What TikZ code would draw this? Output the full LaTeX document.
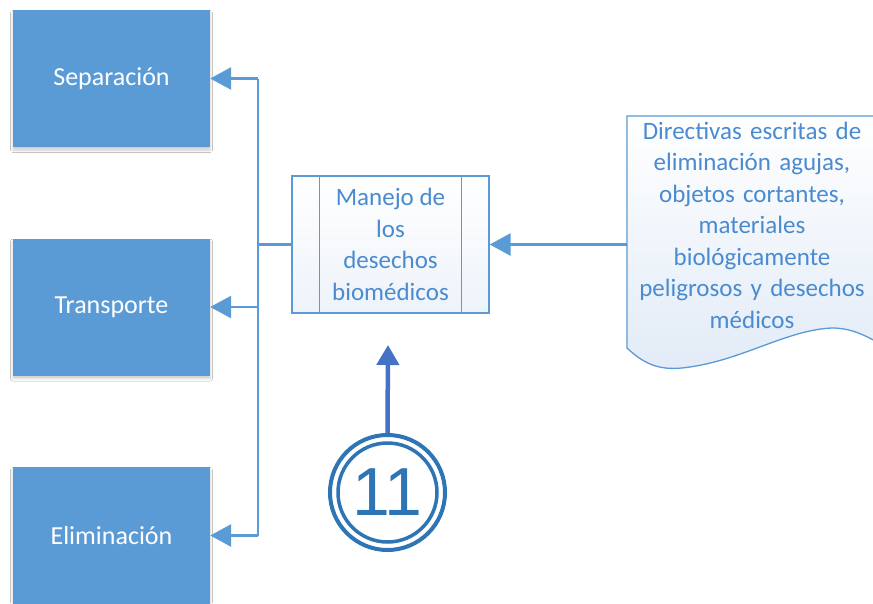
\documentclass[tikz,border=0pt]{standalone}
\usepackage{fontspec}
\setmainfont{Carlito}
\newfontfamily\arialf{Liberation Sans}
\usetikzlibrary{arrows.meta,shadows.blur}
\definecolor{boxblue}{HTML}{5B9BD5}
\definecolor{txtblue}{HTML}{4A8BD0}
\definecolor{circblue}{HTML}{2E75B6}
\definecolor{arrblue}{HTML}{4472C4}
\definecolor{paleblue}{HTML}{E2EBF7}
\begin{document}
\begin{tikzpicture}[x=1pt,y=-1pt,
  sidebox/.style={fill=boxblue, draw=none, minimum width=197pt, minimum height=137pt, inner sep=0pt, text=white, font=\fontsize{26}{30}\selectfont, blur shadow={shadow xshift=0pt, shadow yshift=-3pt, shadow opacity=20, shadow blur radius=2.5pt}},
  conn/.style={draw=boxblue, line width=2.8pt},
  arr/.style={conn, -{Triangle[length=21pt,width=22pt]}},
  bluetext/.style={text=txtblue, align=center, font=\fontsize{25}{31.5}\selectfont},
]
\clip (0,0) rectangle (873,603);
\fill[white] (0,0) rectangle (873,603);
% side boxes
\node[sidebox] (sep) at (111.5,78.5) {Separación};
\node[sidebox] (tra) at (111.5,307) {Transporte};
\node[sidebox] (eli) at (111.5,535.5) {Eliminación};
% process box
\node[draw=boxblue, line width=1.3pt, top color=white, bottom color=paleblue!60, minimum width=197pt, minimum height=137pt, inner sep=0pt, bluetext] (proc) at (390.5,244.5) {Manejo de\\los\\desechos\\biomédicos};
\draw[boxblue, line width=1.3pt] ([xshift=28pt]proc.north west) -- ([xshift=28pt]proc.south west);
\draw[boxblue, line width=1.3pt] ([xshift=-28pt]proc.north east) -- ([xshift=-28pt]proc.south east);
% document shape
\path[draw=boxblue, line width=1.3pt, top color=white, bottom color=paleblue]
  (627,116) -- (627,348)
  .. controls (645,365) and (660,370) .. (682,368)
  .. controls (740,362) and (785,330) .. (832,328)
  .. controls (852,328) and (868,336) .. (890,350)
  -- (890,116) -- cycle;
\node[bluetext, text width=245pt] (doc) at (752,225) {Directivas escritas de\\eliminación agujas,\\objetos cortantes,\\materiales\\biológicamente\\peligrosos y desechos\\médicos};
\coordinate (docin) at (627,244.5);
% connectors
\coordinate (bus) at (258,244.5);
\draw[conn] (proc.west) -- (bus);
\draw[conn] (bus |- sep.east) -- (bus |- eli.east);
\draw[arr] (bus |- sep.east) -- (sep.east);
\draw[arr] (bus |- tra.east) -- (tra.east);
\draw[arr] (bus |- eli.east) -- (eli.east);
\draw[arr] (docin) -- (proc.east);
% circle 11
\node[circle, draw=circblue, line width=4pt, minimum size=115pt, inner sep=0pt, text=circblue, font=\arialf\fontsize{68}{68}\selectfont] (c11) at (387.5,492.5) {11};
\draw[circblue, line width=3.5pt] (c11.center) circle (49.5pt);
\coordinate (tipc) at (388,345);
\draw[arrblue, line width=4.5pt, -{Triangle[length=20pt,width=22pt]}] (c11.north) -- (tipc);
\end{tikzpicture}
\end{document}
